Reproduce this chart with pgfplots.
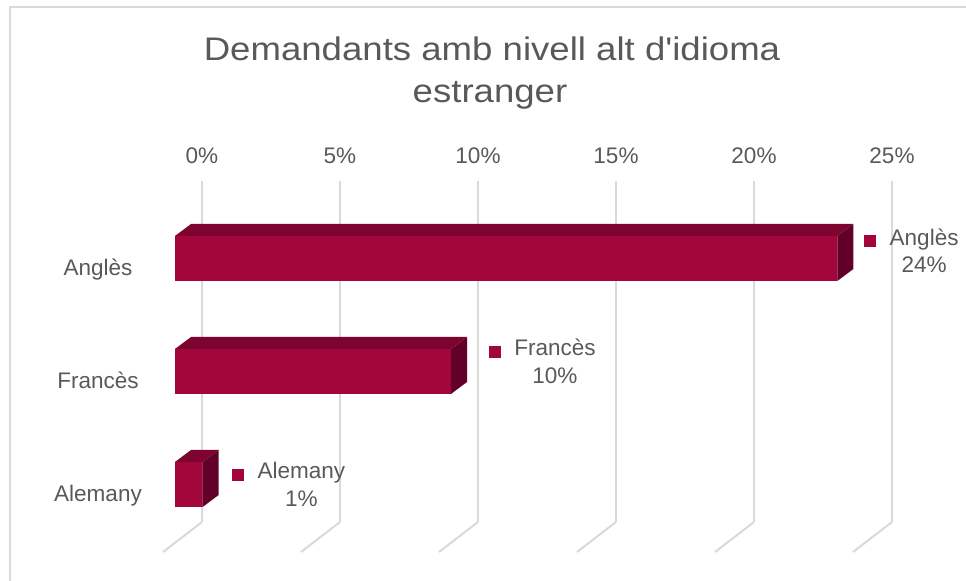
\documentclass[border=0pt]{standalone}
\usepackage{fontspec}
\setmainfont{Liberation Sans}
\newfontfamily\titlefont[FakeStretch=1.12,Ligatures=TeXOff]{Liberation Sans}
\usepackage{pgfplots}
\pgfplotsset{compat=1.18}
\definecolor{barFront}{HTML}{A3063B}
\definecolor{barTop}{HTML}{7E0430}
\definecolor{barSide}{HTML}{62002A}
\definecolor{gridc}{HTML}{D9D9D9}
\definecolor{txt}{HTML}{595959}
\newlength\px \setlength\px{0.75pt}

% data label: x, y, name, value, dx (px), dy of baseline (px)
\newcommand\dlabel[6]{%
  \fill[barFront] ([shift={(#5\px,#6\px-2\px)}]axis cs:#1,#2) rectangle +(12\px,12\px);
  \node[anchor=base west, inner sep=0, text=txt] (lbl) at ([shift={(#5\px+25\px,#6\px)}]axis cs:#1,#2) {#3};
  \node[anchor=base, inner sep=0, text=txt] at ([yshift=-27.5\px]lbl.base) {#4};
}

\begin{document}
\begin{tikzpicture}[font=\fontsize{16.9}{20}\selectfont]
\path[use as bounding box] (0,0) rectangle (966\px,581\px);
\draw[gridc, line width=1.5\px] (10\px,-5\px) -- (10\px,574\px) -- (975\px,574\px);

\node[anchor=base, text=txt, font=\titlefont\fontsize{24.5}{30}\selectfont] at (492\px,520\px) {Demandants amb nivell alt d'idioma};
\node[anchor=base, text=txt, font=\titlefont\fontsize{24.5}{30}\selectfont] at (490\px,478\px) {estranger};

\begin{axis}[
  at={(202\px,59\px)}, anchor=south west,
  scale only axis, width=517.5pt, height=255.75pt,
  xmin=0, xmax=25, ymin=-0.3319, ymax=2.6858,
  axis line style={draw=none}, major tick length=0,
  xtick={0,5,...,25}, xticklabels={0\%,5\%,10\%,15\%,20\%,25\%},
  xticklabel pos=upper,
  xticklabel style={anchor=base, yshift=17\px},
  ytick={0,1,2}, yticklabels={Alemany,Francès,Anglès},
  yticklabel style={anchor=base, xshift=-104\px, yshift=-17.5\px},
  tick label style={text=txt},
  xmajorgrids, major grid style={gridc, line width=2\px},
  clip=false,
]
% floor part of the grid lines
\pgfplotsinvokeforeach{0,5,10,15,20,25}{
  \draw[gridc, line width=2\px] (axis cs:#1,-0.3319) -- ++(-39\px,-30\px);
}
% front faces
\addplot[xbar, bar width=33.75pt, fill=barFront, draw=none, xshift=-27\px]
  coordinates {(24,2) (10,1) (1,0)};
% top faces
\addplot[fill=barTop, draw=none, xshift=-27\px] coordinates {(0,2.1991) (24,2.1991) (24.58,2.3053) (0.58,2.3053)};
\addplot[fill=barTop, draw=none, xshift=-27\px] coordinates {(0,1.1991) (10,1.1991) (10.58,1.3053) (0.58,1.3053)};
\addplot[fill=barTop, draw=none, xshift=-27\px] coordinates {(0,0.1991) (1,0.1991) (1.58,0.3053) (0.58,0.3053)};
% side faces
\addplot[fill=barSide, draw=none, xshift=-27\px] coordinates {(24,2.1991) (24.58,2.3053) (24.58,1.9071) (24,1.8009)};
\addplot[fill=barSide, draw=none, xshift=-27\px] coordinates {(10,1.1991) (10.58,1.3053) (10.58,0.9071) (10,0.8009)};
\addplot[fill=barSide, draw=none, xshift=-27\px] coordinates {(1,0.1991) (1.58,0.3053) (1.58,-0.0929) (1,-0.1991)};

\dlabel{24}{2}{Anglès}{24\%}{0}{13.2}
\dlabel{10}{1}{Francès}{10\%}{11}{15.5}
\dlabel{1}{0}{Alemany}{1\%}{2.7}{5.5}
\end{axis}
\end{tikzpicture}
\end{document}
